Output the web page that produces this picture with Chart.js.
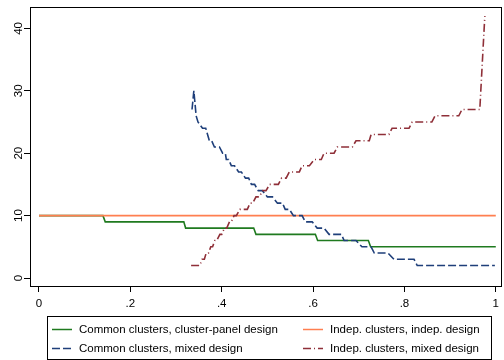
<!DOCTYPE html>
<html>
<head>
<meta charset="utf-8">
<script src="https://cdn.jsdelivr.net/npm/chart.js@4/dist/chart.umd.min.js"></script>
<style>
  html, body { margin: 0; padding: 0; background: #fff; }
  #chart { display: block; }
</style>
</head>
<body>
<canvas id="chart" width="504" height="360"></canvas>
<script>
// --- Data ---
const xTickValues = [0, 0.2, 0.4, 0.6, 0.8, 1];
const xTickLabels = ["0", ".2", ".4", ".6", ".8", "1"];
const yTickValues = [0, 10, 20, 30, 40];

const seriesLabels = [
    "Common clusters, cluster-panel design",
    "Indep. clusters, indep. design",
    "Common clusters, mixed design",
    "Indep. clusters, mixed design"
];

// Common clusters, cluster-panel design (green)
const commonPanelX = [0, 0.140, 0.145, 0.317, 0.321, 0.470, 0.475, 0.605, 0.610, 0.721, 0.726, 1.0];
const commonPanelY = [10, 10, 9, 9, 8, 8, 7, 7, 6, 6, 5, 5];

// Indep. clusters, indep. design (orange)
const indepIndepX = [0, 1.0];
const indepIndepY = [10, 10];

// Common clusters, mixed design (blue, dashed)
const commonMixedX = [0.335, 0.339, 0.344, 0.348, 0.358, 0.365, 0.373, 0.378, 0.384, 0.395,
    0.402, 0.408, 0.410, 0.415, 0.421, 0.428, 0.437, 0.443, 0.452, 0.459,
    0.465, 0.472, 0.480, 0.489, 0.500, 0.511, 0.522, 0.533, 0.539, 0.548,
    0.557, 0.576, 0.583, 0.598, 0.609, 0.624, 0.635, 0.662, 0.668, 0.694,
    0.707, 0.727, 0.734, 0.764, 0.777, 0.821, 0.828, 0.998];
const commonMixedY = [27, 30, 26, 25, 24, 24, 22, 22, 21, 21,
    20, 20, 19, 19, 18, 18, 17, 17, 16, 16,
    15, 15, 14, 14, 13, 13, 12, 12, 11, 11,
    10, 10, 9, 9, 8, 8, 7, 7, 6, 6,
    5, 5, 4, 4, 3, 3, 2, 2];

// Indep. clusters, mixed design (red, dash-dot)
const indepMixedX = [0.333, 0.352, 0.357, 0.362, 0.366, 0.371, 0.376, 0.380, 0.385, 0.389,
    0.396, 0.400, 0.406, 0.411, 0.417, 0.421, 0.427, 0.432, 0.440, 0.456,
    0.462, 0.468, 0.475, 0.482, 0.490, 0.497, 0.505, 0.524, 0.531, 0.541,
    0.548, 0.570, 0.576, 0.592, 0.603, 0.618, 0.624, 0.646, 0.653, 0.686,
    0.694, 0.723, 0.727, 0.766, 0.773, 0.810, 0.817, 0.860, 0.867, 0.919,
    0.926, 0.965, 0.976];
const indepMixedY = [2, 2, 3, 3, 4, 4, 5, 5, 6, 6,
    7, 7, 8, 8, 9, 9, 10, 10, 11, 11,
    12, 12, 13, 13, 14, 14, 15, 15, 16, 16,
    17, 17, 18, 18, 19, 19, 20, 20, 21, 21,
    22, 22, 23, 23, 24, 24, 25, 25, 26, 26,
    27, 27, 42];

// --- Helpers ---
function toPoints(xs, ys) {
    return xs.map((x, i) => ({ x: x, y: ys[i] }));
}

const FONT = "'Liberation Sans', Arial, sans-serif";

const colors = {
    green: "#1f7a1f",
    orange: "#ff7f50",
    blue: "#1f3f7a",
    red: "#8f2f38"
};

function lineDataset(label, xs, ys, color, dash, order) {
    return {
        label: label,
        data: toPoints(xs, ys),
        borderColor: color,
        backgroundColor: color,
        borderWidth: 1.6,
        borderDash: dash,
        pointRadius: 0,
        tension: 0,
        fill: false,
        order: order
    };
}

const datasets = [
    lineDataset(seriesLabels[0], commonPanelX, commonPanelY, colors.green, [], 4),
    lineDataset(seriesLabels[1], indepIndepX, indepIndepY, colors.orange, [], 3),
    lineDataset(seriesLabels[2], commonMixedX, commonMixedY, colors.blue, [8, 3], 2),
    lineDataset(seriesLabels[3], indepMixedX, indepMixedY, colors.red, [8, 3, 1, 3], 1)
];

// --- Plot frame (box round the plot region) ---
const framePlugin = {
    id: "frame",
    afterDatasetsDraw(chart) {
        const { ctx, chartArea: a } = chart;
        ctx.save();
        ctx.strokeStyle = "#000";
        ctx.lineWidth = 1;
        ctx.strokeRect(Math.round(a.left) + 0.5, Math.round(a.top) + 0.5,
            Math.round(a.right - a.left) - 1, Math.round(a.bottom - a.top));
        ctx.restore();
    }
};

// --- Two-column legend in a box below the plot ---
const legendPlugin = {
    id: "gridLegend",
    afterDraw(chart) {
        const ctx = chart.ctx;
        const box = { left: 47, top: 316, right: 491, bottom: 359 };
        const cols = [52, 303];
        const rows = [329, 348];
        ctx.save();
        ctx.strokeStyle = "#000";
        ctx.lineWidth = 1;
        ctx.strokeRect(box.left + 0.5, box.top + 0.5, box.right - box.left, box.bottom - box.top);

        ctx.font = "11.5px " + FONT;
        ctx.textBaseline = "middle";
        ctx.textAlign = "left";
        chart.data.datasets.forEach((ds, i) => {
            const cx = cols[i % 2];
            const cy = rows[Math.floor(i / 2)];
            ctx.beginPath();
            ctx.strokeStyle = ds.borderColor;
            ctx.lineWidth = 1.5;
            ctx.setLineDash(ds.borderDash || []);
            ctx.moveTo(cx, cy + 0.5);
            ctx.lineTo(cx + 20, cy + 0.5);
            ctx.stroke();
            ctx.setLineDash([]);
            ctx.fillStyle = "#000";
            ctx.fillText(ds.label, cx + 27, cy + 1);
        });
        ctx.restore();
    }
};

const chart = new Chart(document.getElementById("chart").getContext("2d"), {
    type: "line",
    data: { datasets: datasets },
    plugins: [framePlugin, legendPlugin],
    options: {
        responsive: false,
        animation: false,
        layout: { padding: { top: 7, right: 1, bottom: 50, left: 0 } },
        plugins: {
            legend: { display: false },
            tooltip: { enabled: false }
        },
        scales: {
            x: {
                type: "linear",
                min: -0.0197,
                max: 1.013,
                afterBuildTicks: axis => {
                    axis.ticks = xTickValues.map(v => ({ value: v }));
                },
                afterFit: axis => { axis.height = 24; },
                ticks: {
                    color: "#000",
                    font: { size: 11.5, family: FONT },
                    padding: 5,
                    maxRotation: 0,
                    autoSkip: false,
                    callback: (value) => {
                        const i = xTickValues.findIndex(v => Math.abs(v - value) < 1e-6);
                        return i >= 0 ? xTickLabels[i] : "";
                    }
                },
                grid: {
                    display: true,
                    drawOnChartArea: false,
                    drawTicks: true,
                    tickLength: 6,
                    color: "#000"
                },
                border: { display: true, color: "#000" }
            },
            y: {
                type: "linear",
                min: -1.28,
                max: 43.43,
                afterBuildTicks: axis => {
                    axis.ticks = yTickValues.map(v => ({ value: v }));
                },
                afterFit: axis => { axis.width = 30; },
                ticks: {
                    color: "#000",
                    font: { size: 11.5, family: FONT },
                    padding: -1,
                    minRotation: 90,
                    maxRotation: 90,
                    crossAlign: "center",
                    autoSkip: false
                },
                grid: {
                    display: true,
                    drawOnChartArea: false,
                    drawTicks: true,
                    tickLength: 6,
                    color: "#000"
                },
                border: { display: true, color: "#000" }
            }
        }
    }
});
</script>
</body>
</html>
